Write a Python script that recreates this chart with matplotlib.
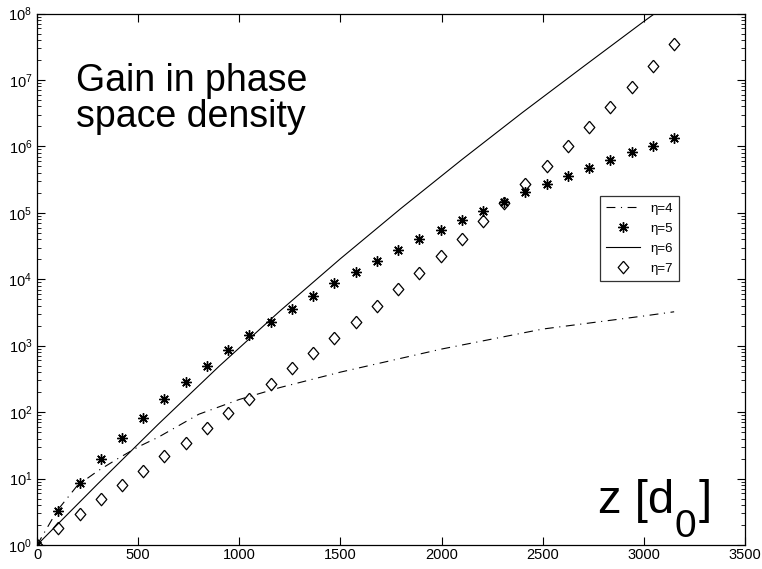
import matplotlib
matplotlib.use("Agg")
import matplotlib.pyplot as plt
from matplotlib.ticker import LogLocator, NullFormatter, FixedLocator

plt.rcParams['font.family'] = ['Liberation Sans', 'DejaVu Sans']
plt.rcParams['mathtext.fontset'] = 'custom'
plt.rcParams['mathtext.rm'] = 'Liberation Sans'
plt.rcParams['mathtext.it'] = 'Liberation Sans'

# ---- data ----
z_pts = [0, 105, 210, 315, 420, 525, 630, 735, 840, 945, 1050, 1155, 1260, 1365,
         1470, 1575, 1680, 1785, 1890, 1995, 2100, 2205, 2310, 2415, 2520, 2625,
         2730, 2835, 2940, 3045, 3150]

gain_eta5 = [1, 3.3, 8.5, 19.5, 41, 81, 155, 288, 501, 851, 1445, 2290, 3630, 5620,
             8710, 12900, 19100, 27500, 39800, 55000, 77600, 107000, 148000, 204000,
             269000, 355000, 468000, 617000, 813000, 1020000, 1350000]

gain_eta7 = [1, 1.78, 2.95, 4.9, 7.9, 12.9, 21.9, 34.7, 57.5, 95.5, 158, 269, 457, 776,
             1290, 2290, 3980, 7080, 12600, 22400, 40700, 75900, 141000, 269000,
             513000, 1000000, 1950000, 3890000, 7940000, 16200000, 34700000]

z_eta4 = [0, 100, 200, 300, 400, 500, 600, 800, 1000, 1200, 1500, 2000, 2500, 3000, 3150]
gain_eta4 = [1, 3.3, 7.9, 13, 20, 30, 42, 93, 155, 234, 400, 890, 1780, 2800, 3240]

z_eta6 = [0, 300, 600, 900, 1200, 1500, 1800, 2100, 2400, 2700, 3000, 3100]
gain_eta6 = [1, 8.3, 66, 490, 3310, 20400, 117000, 631000, 3.24e6, 1.58e7, 7.6e7, 1.26e8]

xticks = [0, 500, 1000, 1500, 2000, 2500, 3000, 3500]
yticks = [1e0, 1e1, 1e2, 1e3, 1e4, 1e5, 1e6, 1e7, 1e8]
labels = ['η=4', 'η=5', 'η=6', 'η=7']

# ---- plot ----
fig = plt.figure(figsize=(7.62, 5.69), dpi=100)
ax = fig.add_axes([0.0486, 0.0422, 0.929, 0.934])

diamond = [(0, 1), (0.85, 0), (0, -1), (-0.85, 0), (0, 1)]

ax.plot(z_eta4, gain_eta4, color='black', lw=0.8, ls=(0, (8, 5, 1, 5)), label=labels[0])
ax.plot(z_pts, gain_eta5, color='black', ls='none', marker=(8, 2, 0), ms=7.5,
        mew=1.0, label=labels[1])
ax.plot(z_eta6, gain_eta6, color='black', lw=0.8, label=labels[2])
ax.plot(z_pts, gain_eta7, color='black', ls='none', marker=diamond, ms=9,
        mfc='none', mew=0.9, label=labels[3])

ax.set_yscale('log')
ax.set_xlim(0, 3500)
ax.set_ylim(1, 1e8)
ax.xaxis.set_major_locator(FixedLocator(xticks))
ax.yaxis.set_major_locator(FixedLocator(yticks))
ax.yaxis.set_minor_locator(LogLocator(base=10, subs=range(2, 10), numticks=100))
ax.yaxis.set_minor_formatter(NullFormatter())
ax.tick_params(which='both', direction='in', top=True, right=True, labelsize=10.5)
ax.tick_params(which='major', length=6, width=0.8)
ax.tick_params(axis='x', pad=2)
ax.tick_params(which='minor', length=3, width=0.6)
for s in ax.spines.values():
    s.set_linewidth(0.9)

ax.text(0.055, 0.907, 'Gain in phase\nspace density', transform=ax.transAxes,
        fontsize=27, va='top', ha='left', linespacing=1.0)

# "z [d0]" label, subscript set by hand (large and low, as in the original)
fig.text(5.98, 0.56, 'z [d', fontsize=34, va='baseline', ha='left',
         transform=fig.dpi_scale_trans)
fig.text(6.745, 0.32, '0', fontsize=28, va='baseline', ha='left',
         transform=fig.dpi_scale_trans)
fig.text(6.99, 0.56, ']', fontsize=34, va='baseline', ha='left',
         transform=fig.dpi_scale_trans)

leg = ax.legend(loc='upper left', bbox_to_anchor=(0.795, 0.656), fontsize=9.5,
                frameon=True, fancybox=False, edgecolor='black', handlelength=2.6,
                borderpad=0.45, labelspacing=0.6, handletextpad=0.8,
                borderaxespad=0)
leg.get_frame().set_linewidth(0.9)

fig.savefig('out.png', dpi=100)
